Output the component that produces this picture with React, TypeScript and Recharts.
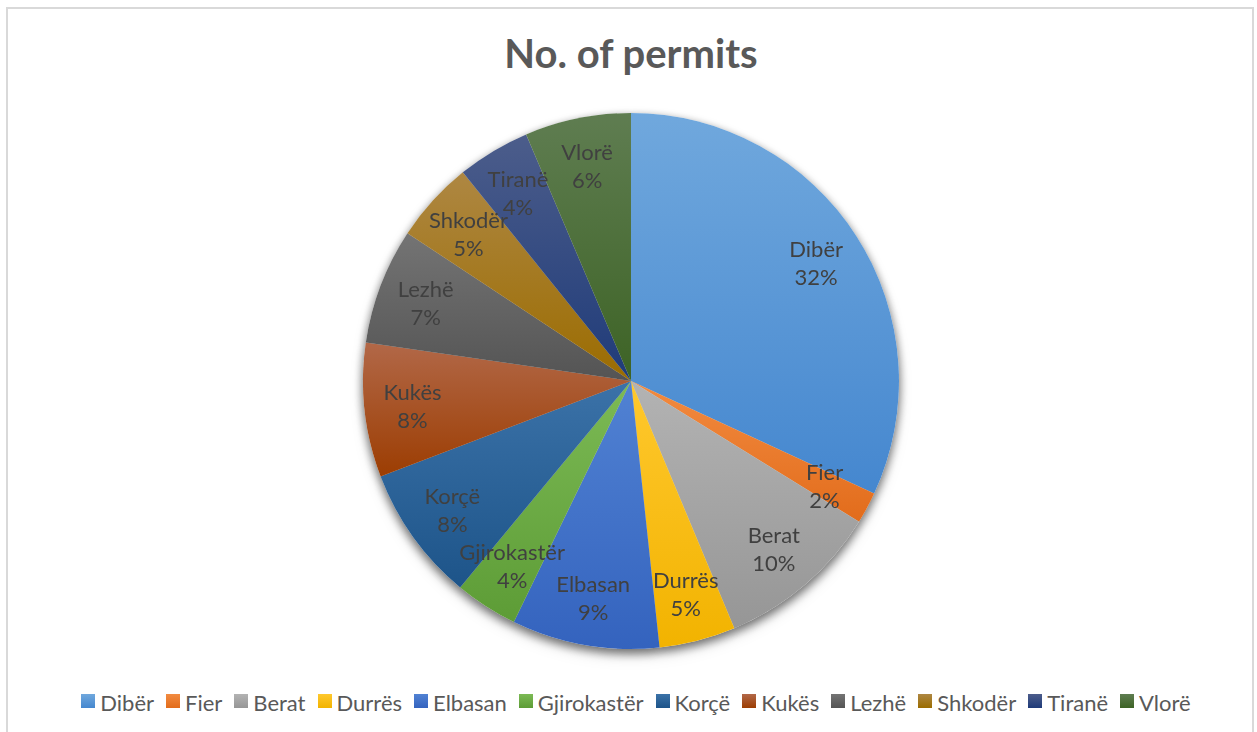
import { PieChart, Pie, Cell, Legend } from 'recharts';

const regions = ['Dibër', 'Fier', 'Berat', 'Durrës', 'Elbasan', 'Gjirokastër', 'Korçë', 'Kukës', 'Lezhë', 'Shkodër', 'Tiranë', 'Vlorë'];
const permits = [319, 19, 99, 46, 89, 38, 82, 81, 70, 49, 44, 64];

// gradient stops, light at the top, darker at the bottom (Excel style)
const topColors = ['#70a8dd', '#f28b41', '#b3b3b3', '#ffc82e', '#5182d3', '#7cba55', '#3b72a8', '#b26848', '#747474', '#ae8742', '#4c5d8b', '#5f7d51'];
const bottomColors = ['#4587cf', '#e26c1b', '#969696', '#f2b300', '#3463be', '#5d9c36', '#1d5489', '#9c3d02', '#545454', '#9b6c00', '#1f3b79', '#3d6325'];

const data = regions.map((name, i) => ({ name, value: permits[i] }));

const RAD = Math.PI / 180;

const renderLabel = (props: any) => {
  const { cx, cy, midAngle, outerRadius, percent, name } = props;
  const r = outerRadius * 0.82;
  const x = cx + r * Math.cos(-midAngle * RAD);
  const y = cy + r * Math.sin(-midAngle * RAD);
  return (
    <text x={x} y={y} textAnchor="middle" fill="#404040" fontSize={22} fontFamily="Lato">
      <tspan x={x} y={y - 14} dominantBaseline="central">{name}</tspan>
      <tspan x={x} y={y + 14} dominantBaseline="central">{`${Math.round(percent * 100)}%`}</tspan>
    </text>
  );
};

const renderLegend = () => (
  <div style={{ display: 'flex', justifyContent: 'center', gap: 12, fontFamily: 'Lato', fontSize: 22, lineHeight: '24px', color: '#595959' }}>
    {data.map((d, i) => (
      <div key={d.name} style={{ display: 'flex', alignItems: 'flex-start', gap: 5 }}>
        <span style={{ width: 14, height: 14, marginTop: 3, background: `linear-gradient(${topColors[i]}, ${bottomColors[i]})` }} />
        <span>{d.name}</span>
      </div>
    ))}
  </div>
);

const App = () => {
  return (
    <div style={{ position: 'relative', width: 1257, height: 732, overflow: 'hidden', background: '#fff' }}>
      <style>{`body { margin: 0; } .pie-shadow { filter: drop-shadow(0px 4px 5px rgba(0,0,0,0.35)); }`}</style>
      <div style={{ position: 'absolute', left: 6, top: 7, width: 1248, height: 760, border: '2px solid #d9d9d9', boxSizing: 'border-box' }} />
      <div style={{ position: 'absolute', left: 0, top: 35, width: 1262, height: 36, lineHeight: '36px', textAlign: 'center', fontFamily: 'Lato', fontWeight: 700, fontSize: 40, color: '#595959' }}>
        No. of permits
      </div>
      <div style={{ position: 'absolute', left: 0, top: 0 }}>
        <PieChart width={1257} height={732} margin={{ top: 0, right: 0, bottom: 0, left: 0 }}>
          <defs>
            {data.map((d, i) => (
              <linearGradient key={d.name} id={`grad-${i}`} x1="0" y1="0" x2="0" y2="1">
                <stop offset="0%" stopColor={topColors[i]} />
                <stop offset="100%" stopColor={bottomColors[i]} />
              </linearGradient>
            ))}
          </defs>
          <Pie
            data={data}
            dataKey="value"
            nameKey="name"
            cx={631}
            cy={381}
            outerRadius={268}
            startAngle={90}
            endAngle={-270}
            fill="#ffffff"
            stroke="none"
            className="pie-shadow"
            legendType="none"
            label={false}
            labelLine={false}
            isAnimationActive={false}
          />
          <Pie
            data={data}
            dataKey="value"
            nameKey="name"
            cx={631}
            cy={381}
            outerRadius={268}
            startAngle={90}
            endAngle={-270}
            stroke="none"
            label={renderLabel}
            labelLine={false}
            isAnimationActive={false}
          >
            {data.map((d, i) => (
              <Cell key={d.name} fill={`url(#grad-${i})`} />
            ))}
          </Pie>
          <Legend content={renderLegend} wrapperStyle={{ left: 0, top: 691, width: 1272 }} />
        </PieChart>
      </div>
    </div>
  );
};

export default App;
